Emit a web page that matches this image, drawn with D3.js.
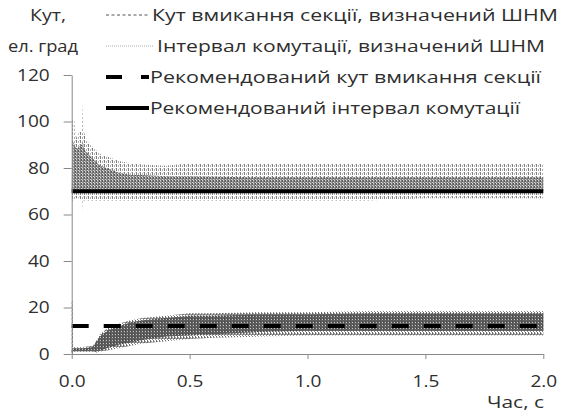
<!DOCTYPE html>
<html><head><meta charset="utf-8">
<script src="https://cdn.jsdelivr.net/npm/d3@7"></script>
<style>
html,body{margin:0;padding:0;background:#fff;}
svg{display:block;}
text{font-family:"Open Sans",sans-serif;fill:#2e2e2e;}
</style></head>
<body>
<svg id="chart" width="562" height="413"></svg>
<script>
// ---------------- data ----------------
const yTicks = [0, 20, 40, 60, 80, 100, 120];
const xTicks = [0, 0.5, 1.0, 1.5, 2.0];
const yTitle = ["Кут,", "ел. град"];
const xTitle = "Час, с";
const legendLabels = [
  "Кут вмикання секції, визначений ШНМ",
  "Інтервал комутації, визначений ШНМ",
  "Рекомендований кут вмикання секції",
  "Рекомендований інтервал комутації"
];
// recommended values
const recAngle = 12;
const recInterval = 70;

// interval determined by NN: envelope of the oscillating signal
const timeU      = [0, 0.003, 0.012, 0.02, 0.03, 0.04, 0.043, 0.047, 0.05, 0.053, 0.06, 0.07, 0.08, 0.1, 0.12, 0.15, 0.2, 0.25, 0.3, 0.4, 0.5, 0.75, 1.0, 1.25, 1.5, 1.75, 2.0];
const upperHi    = [70, 101, 100, 93, 95, 96, 97, 108, 96, 95, 93, 91, 90, 88, 86, 85, 83, 82, 81.5, 81, 82, 82, 82, 82, 82, 82, 82];
const upperLo    = [66, 66, 66, 67, 67, 66, 60, 66, 66, 66, 66, 66, 66, 66, 66, 66, 66, 66, 66, 66, 66, 66, 66, 66, 67, 67, 67];
const upperCoreHi= [70, 92, 90, 88, 89, 90, 90, 92, 89, 88, 87, 86, 85, 83, 81, 80, 78, 77, 77, 76.5, 76.5, 76, 76, 76, 76, 76, 76];
const upperCoreLo= [70, 70, 70, 70, 70, 70, 70, 70, 70, 70, 70, 70, 70, 70, 70, 70, 70, 70, 70, 70, 70, 70, 70, 70, 70, 70, 70];

// switch-on angle determined by NN: envelope of the oscillating signal
const timeL      = [0, 0.003, 0.006, 0.05, 0.09, 0.1, 0.12, 0.15, 0.2, 0.25, 0.3, 0.4, 0.5, 0.6, 0.8, 1.0, 1.25, 1.5, 1.75, 2.0];
const lowerHi    = [23, 23, 3, 3, 3.5, 5, 8.5, 11, 13, 14.5, 15.5, 16.5, 17.5, 17.5, 18, 18, 18.5, 18.5, 18.5, 18.5];
const lowerLo    = [0, 0, 1, 1, 1, 0.5, 1, 1.5, 2.5, 3.5, 4.5, 5.5, 6.5, 7, 7.5, 8, 8, 8, 8, 8];
const lowerCoreHi= [2, 2, 2.5, 2.5, 3, 4.5, 7.5, 10, 12, 13.5, 14.5, 15.5, 16.5, 16.5, 17, 17, 17.5, 17.5, 17.5, 17.5];
const lowerCoreLo= [0.5, 0.5, 1.2, 1.2, 1.2, 1, 1.5, 2.5, 4, 5, 6, 7.5, 8, 8.5, 9.5, 10, 10, 10, 10, 10];

// ---------------- drawing ----------------
const svg = d3.select("#chart");
const x = d3.scaleLinear().domain([0, 2]).range([71.7, 543.3]);
const y = d3.scaleLinear().domain([0, 120]).range([354, 75]);

const defs = svg.append("defs");
function pattern(id, w, h, bg, rects) {
  const p = defs.append("pattern").attr("id", id).attr("patternUnits", "userSpaceOnUse")
    .attr("width", w).attr("height", h);
  if (bg) p.append("rect").attr("width", w).attr("height", h).attr("fill", bg);
  rects.forEach(r => p.append("rect").attr("x", r[0]).attr("y", r[1]).attr("width", r[2]).attr("height", r[3]).attr("fill", r[4]));
}
pattern("pU", 4, 4, null, [[0, 0, 1, 3, "#7e7e7e"], [2, 1, 1, 2, "#b0b0b0"], [3, 0, 1, 1, "#d0d0d0"]]);
pattern("pUc", 3, 3, "#d6d6d6", [[0, 0, 1, 2, "#5a5a5a"], [1, 1, 1, 2, "#9a9a9a"], [2, 0, 1, 3, "#7a7a7a"]]);
pattern("pL", 3, 4, null, [[0, 0, 1, 3, "#6a6a6a"], [1, 1, 1, 2, "#a0a0a0"], [2, 2, 1, 2, "#8a8a8a"]]);
pattern("pLc", 3, 3, "#5e5e5e", [[1, 1, 1, 1, "#c8c8c8"], [2, 0, 1, 2, "#4c4c4c"]]);

function band(times, hi, lo, fill) {
  const data = times.map((t, i) => ({t, hi: hi[i], lo: lo[i]}));
  svg.append("path").datum(data)
    .attr("d", d3.area().x(d => x(d.t)).y0(d => y(d.lo)).y1(d => y(d.hi)))
    .attr("fill", fill);
}
band(timeU, upperHi, upperLo, "url(#pU)");
band(timeU, upperCoreHi, upperCoreLo, "url(#pUc)");
band(timeL, lowerHi, lowerLo, "url(#pL)");
band(timeL, lowerCoreHi, lowerCoreLo, "url(#pLc)");

// recommended lines
const line = d3.line().x(d => x(d[0])).y(d => y(d[1]));
svg.append("path").datum([[0, recInterval], [2, recInterval]]).attr("d", line)
  .attr("stroke", "#000").attr("stroke-width", 4).attr("fill", "none");
svg.append("path").datum([[0, recAngle], [2, recAngle]]).attr("d", line)
  .attr("stroke", "#000").attr("stroke-width", 4).attr("fill", "none")
  .attr("stroke-dasharray", "17,15");

// axes
const yAxis = svg.append("g").attr("transform", `translate(${x(0)},0)`)
  .call(d3.axisLeft(y).tickValues(yTicks).tickSize(8).tickSizeOuter(0).tickPadding(14).tickFormat(d3.format("d")));
const xAxis = svg.append("g").attr("transform", `translate(0,${y(0)})`)
  .call(d3.axisBottom(x).tickValues(xTicks).tickSize(5).tickSizeOuter(0).tickPadding(16).tickFormat(d3.format(".1f")));
[yAxis, xAxis].forEach(g => {
  g.selectAll("path,line").attr("stroke", "#888");
  g.selectAll("text").attr("font-size", 17).attr("font-family", "Open Sans").attr("fill", "#2e2e2e")
    .each(function () {
      const w = this.getComputedTextLength();
      d3.select(this).attr("textLength", w * 1.12).attr("lengthAdjust", "spacingAndGlyphs");
    });
});

// titles
function txt(s, px, py, anchor, width) {
  const t = svg.append("text").attr("x", px).attr("y", py).attr("text-anchor", anchor)
    .attr("font-size", 17).text(s);
  if (width) t.attr("textLength", width).attr("lengthAdjust", "spacingAndGlyphs");
  return t;
}
txt(yTitle[0], 48, 21, "middle", 36);
txt(yTitle[1], 43, 52, "middle", 70);
txt(xTitle, 544, 408, "end", 57);

// legend
const legY = [15, 46, 77, 108];
const legX0 = 106;
const legStyles = [
  {stroke: "#555", w: 1, dash: "3,2.5", x1: 149, tx: 152, tw: 406},
  {stroke: "#aaa", w: 1, dash: "1,1", x1: 154, tx: 157, tw: 388},
  {stroke: "#000", w: 4, dash: "16,19", x1: 149, tx: 150, tw: 391},
  {stroke: "#000", w: 4, dash: null, x1: 149, tx: 150, tw: 370}
];
legendLabels.forEach((lab, i) => {
  const s = legStyles[i];
  svg.append("line").attr("x1", legX0).attr("x2", s.x1).attr("y1", legY[i]).attr("y2", legY[i])
    .attr("stroke", s.stroke).attr("stroke-width", s.w).attr("stroke-dasharray", s.dash);
  txt(lab, s.tx, legY[i] + 6, "start", s.tw);
});
</script>
</body></html>
